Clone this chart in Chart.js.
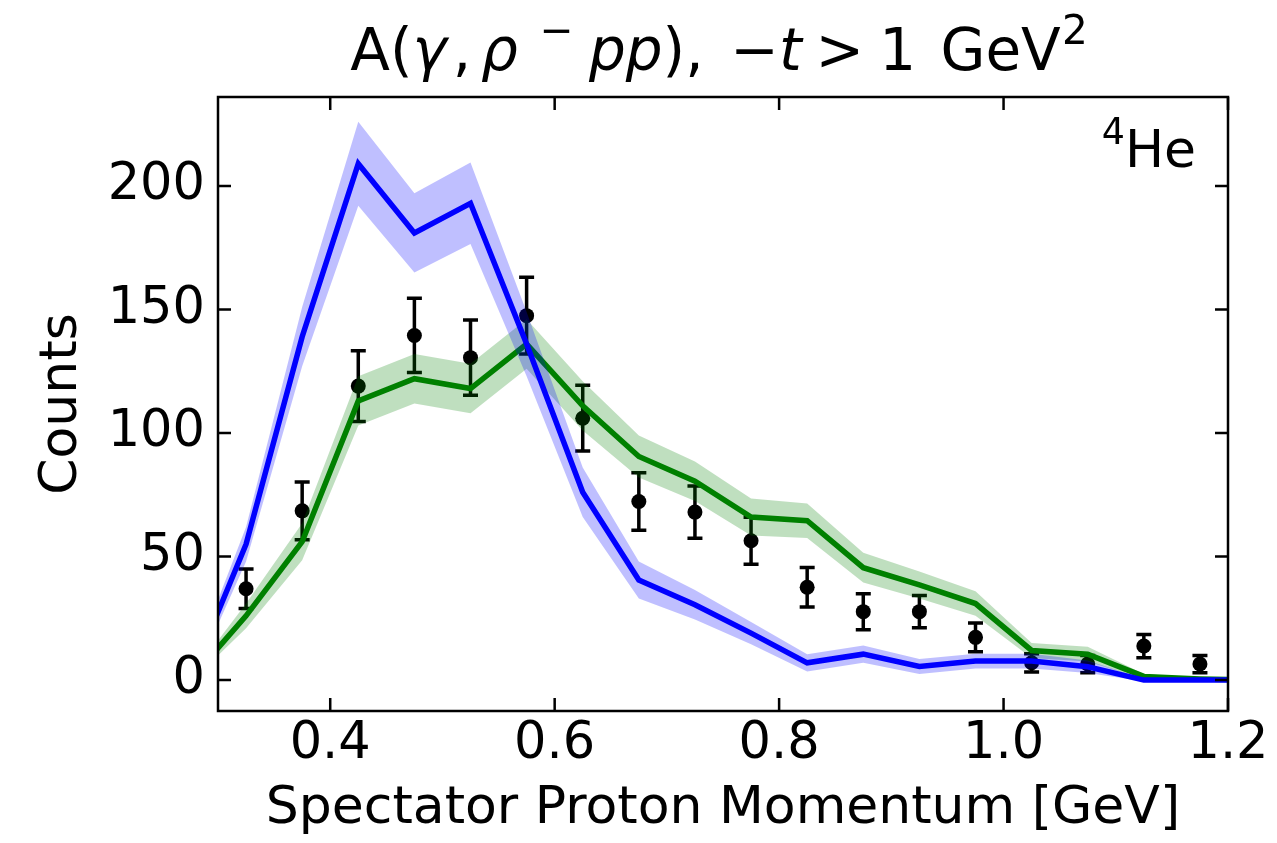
<!DOCTYPE html>
<html>
<head>
<meta charset="utf-8">
<script src="https://cdn.jsdelivr.net/npm/chart.js@4.4.1/dist/chart.umd.min.js"></script>
<style>
  html, body { margin: 0; padding: 0; background: #fff; }
  #wrap { width: 1277px; height: 843px; position: relative; }
</style>
</head>
<body>
<div id="wrap"><canvas id="myChart"></canvas></div>
<script>
const FONT = "'DejaVu Sans', sans-serif";

// ------------------------------------------------------------------
// DATA
// model bin centres, first and last sit outside the x range so lines run to the edges
const modelX = [0.275, 0.325, 0.375, 0.425, 0.475, 0.525, 0.575, 0.625, 0.675, 0.725,
  0.775, 0.825, 0.875, 0.925, 0.975, 1.025, 1.075, 1.125, 1.175, 1.225];

const blueVals = [0, 55, 139, 209, 181, 193, 136, 76, 40.5, 30.5,
  19, 7, 10.5, 5.5, 7.7, 7.7, 5.4, 0, 0, 0];
const blueBand = [3, 7, 12, 17, 16, 16.5, 13, 10, 7.5, 6,
  4.5, 3.5, 3.5, 3, 3, 3, 2.5, 0.5, 0, 0];

const greenVals = [0, 26, 56, 113, 122, 118, 136, 111, 90.5, 80.5,
  66, 64.5, 45.5, 38.5, 31, 12, 10.5, 1.5, 0.5, 0];
const greenBand = [1, 5, 7.5, 10, 10, 10, 10, 10, 8.5, 8,
  7.5, 7, 6, 5.5, 5, 3, 3, 1, 0.5, 0];

const dataX = [0.325, 0.375, 0.425, 0.475, 0.525, 0.575, 0.625, 0.675, 0.725,
  0.775, 0.825, 0.875, 0.925, 0.975, 1.025, 1.075, 1.125, 1.175];
const dataY = [37, 68.5, 119, 139.5, 130.5, 147.5, 106, 72.3, 68,
  56.4, 37.6, 27.7, 27.7, 17.3, 7, 6.5, 13.8, 6.5];
const dataErr = [8, 11.7, 14.3, 15, 15.2, 15.5, 13.3, 11.6, 10.6,
  9.5, 8, 7.3, 6.5, 5.8, 3.7, 3.5, 4.7, 3.5];

const xTicks = [0.4, 0.6, 0.8, 1.0, 1.2];
const yTicks = [0, 50, 100, 150, 200];

// [text, style, gap after in em]  n = normal, i = italic, s = superscript
const titleParts = [
  ['A(', 'n', 0], ['γ', 'i', 0.1], [',', 'n', 0.17], ['ρ', 'i', 0.38], ['−', 's', 0.26],
  ['pp', 'i', 0], ['),', 'n', 0.46], ['−', 'n', 0], ['t', 'i', 0.24], ['>', 'n', 0.26],
  ['1', 'n', 0.42], ['GeV', 'n', 0.02], ['2', 's', 0],
];
const nucleusLabel = [['4', 's', 0], ['He', 'n', 0]];

// ------------------------------------------------------------------
// HELPERS
function pts(xs, ys) {
  return xs.map((x, i) => ({ x: x, y: ys[i] }));
}

function shifted(vals, band, sign) {
  return vals.map((v, i) => v + sign * band[i]);
}

// draws a run of normal / italic / superscript pieces
function drawParts(ctx, parts, size, x, baseline, align) {
  const fontFor = s => (s === 'i' ? 'italic ' : '') + (s === 's' ? size * 0.7 : size) + 'px ' + FONT;
  let total = 0;
  parts.forEach(p => {
    ctx.font = fontFor(p[1]);
    total += ctx.measureText(p[0]).width + p[2] * size;
  });
  let cx = align === 'right' ? x - total : x - total / 2;
  ctx.textAlign = 'left';
  ctx.textBaseline = 'alphabetic';
  parts.forEach(p => {
    ctx.font = fontFor(p[1]);
    const dy = p[1] === 's' ? size * 0.45 : 0;
    ctx.fillText(p[0], cx, baseline - dy);
    cx += ctx.measureText(p[0]).width + p[2] * size;
  });
}

// ------------------------------------------------------------------
// PLUGINS
const errorBars = {
  id: 'errorBars',
  beforeDatasetsDraw(chart) {
    const { ctx, scales: { x, y } } = chart;
    ctx.save();
    ctx.strokeStyle = '#000';
    ctx.lineWidth = 3.5;
    dataX.forEach((v, i) => {
      const px = x.getPixelForValue(v);
      const top = y.getPixelForValue(dataY[i] + dataErr[i]);
      const bot = y.getPixelForValue(dataY[i] - dataErr[i]);
      ctx.beginPath();
      ctx.moveTo(px, top); ctx.lineTo(px, bot);
      ctx.moveTo(px - 7.5, top); ctx.lineTo(px + 7.5, top);
      ctx.moveTo(px - 7.5, bot); ctx.lineTo(px + 7.5, bot);
      ctx.stroke();
    });
    ctx.restore();
  }
};

const frame = {
  id: 'frame',
  afterDraw(chart) {
    const { ctx, chartArea: a, scales: { x, y } } = chart;
    const tl = 13;
    ctx.save();
    ctx.strokeStyle = '#000';
    ctx.lineWidth = 2.5;
    ctx.beginPath();
    xTicks.forEach(v => {
      const px = x.getPixelForValue(v);
      ctx.moveTo(px, a.bottom); ctx.lineTo(px, a.bottom - tl);
      ctx.moveTo(px, a.top); ctx.lineTo(px, a.top + tl);
    });
    yTicks.forEach(v => {
      const py = y.getPixelForValue(v);
      ctx.moveTo(a.left, py); ctx.lineTo(a.left + tl, py);
      ctx.moveTo(a.right, py); ctx.lineTo(a.right - tl, py);
    });
    ctx.stroke();
    ctx.strokeRect(a.left, a.top, a.right - a.left, a.bottom - a.top);

    ctx.fillStyle = '#000';
    drawParts(ctx, titleParts, 58, (a.left + a.right) / 2 - 4, 70, 'center');
    drawParts(ctx, nucleusLabel, 52, a.right - 32, 167, 'right');
    ctx.restore();
  }
};

// ------------------------------------------------------------------
// CHART
const lineBase = { pointRadius: 0, clip: 0, tension: 0 };

const datasets = [
  {
    label: 'data', type: 'scatter', data: pts(dataX, dataY),
    pointRadius: 7.5, pointBackgroundColor: '#000', pointBorderWidth: 0, order: 6,
  },
  {
    ...lineBase, label: 'green low', data: pts(modelX, shifted(greenVals, greenBand, -1)),
    borderWidth: 0, borderColor: 'rgba(0,0,0,0)', fill: false, order: 5,
  },
  {
    ...lineBase, label: 'green band', data: pts(modelX, shifted(greenVals, greenBand, 1)),
    borderWidth: 0, borderColor: 'rgba(0,0,0,0)', fill: '-1', backgroundColor: 'rgba(0,128,0,0.25)', order: 5,
  },
  {
    ...lineBase, label: 'green', data: pts(modelX, greenVals),
    borderWidth: 5.5, borderColor: '#008000', fill: false, order: 4,
  },
  {
    ...lineBase, label: 'blue low', data: pts(modelX, shifted(blueVals, blueBand, -1)),
    borderWidth: 0, borderColor: 'rgba(0,0,0,0)', fill: false, order: 3,
  },
  {
    ...lineBase, label: 'blue band', data: pts(modelX, shifted(blueVals, blueBand, 1)),
    borderWidth: 0, borderColor: 'rgba(0,0,0,0)', fill: '-1', backgroundColor: 'rgba(0,0,255,0.25)', order: 3,
  },
  {
    ...lineBase, label: 'blue', data: pts(modelX, blueVals),
    borderWidth: 5.5, borderColor: '#0000ff', fill: false, order: 2,
  },
];

const config = {
  type: 'line',
  data: { datasets: datasets },
  options: {
    responsive: true,
    maintainAspectRatio: false,
    animation: false,
    layout: { padding: { top: 97, right: 49, left: 0, bottom: 0 } },
    plugins: {
      legend: { display: false },
      tooltip: { enabled: false },
      title: { display: false },
    },
    scales: {
      x: {
        type: 'linear',
        min: 0.3,
        max: 1.2,
        afterBuildTicks: s => { s.ticks = xTicks.map(v => ({ value: v })); },
        afterFit: s => { s.height = 132; },
        grid: { display: false, drawTicks: false },
        border: { display: false },
        ticks: {
          font: { family: FONT, size: 51 }, color: '#000', padding: 3,
          maxRotation: 0, autoSkip: false,
          callback: v => v.toFixed(1),
        },
        title: {
          display: true, text: 'Spectator Proton Momentum [GeV]',
          font: { family: FONT, size: 52 }, color: '#000', padding: { top: 0, bottom: 2 },
        },
      },
      y: {
        type: 'linear',
        min: -12.5,
        max: 236,
        afterBuildTicks: s => { s.ticks = yTicks.map(v => ({ value: v })); },
        afterFit: s => { s.width = 218; },
        grid: { display: false, drawTicks: false },
        border: { display: false },
        ticks: {
          font: { family: FONT, size: 51 }, color: '#000', padding: 13,
          autoSkip: false,
          callback: v => String(v),
        },
        title: {
          display: true, text: 'Counts',
          font: { family: FONT, size: 52 }, color: '#000', padding: { top: 31, bottom: 0 },
        },
      },
    },
  },
  plugins: [errorBars, frame],
};

const myChart = new Chart(document.getElementById('myChart'), config);
</script>
</body>
</html>
